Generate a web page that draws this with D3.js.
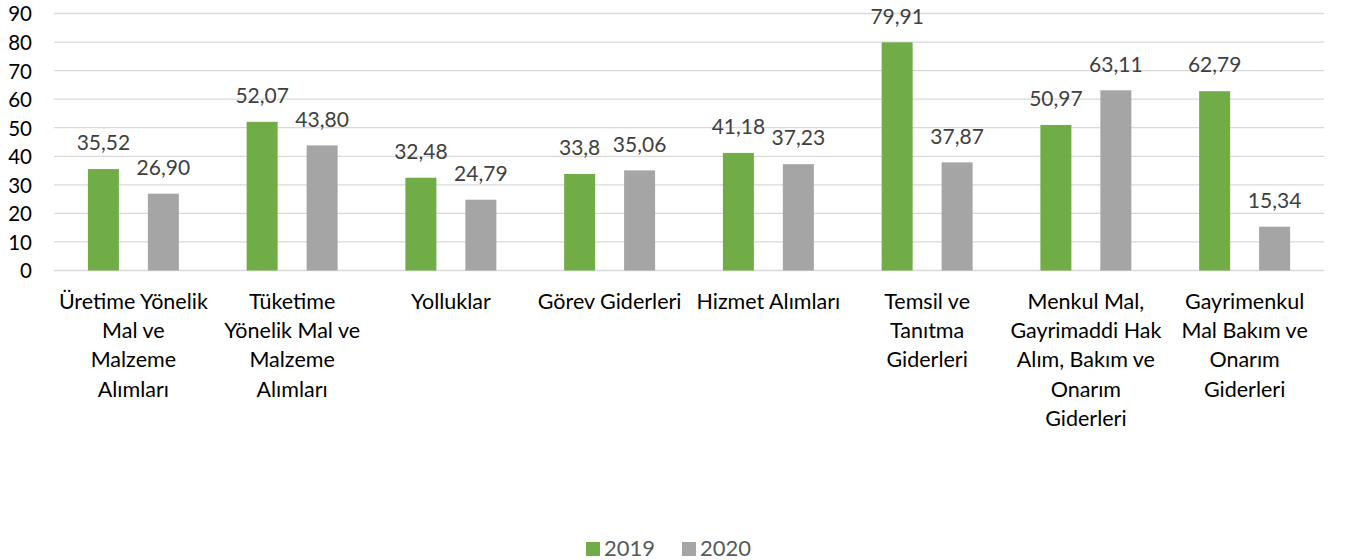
<!DOCTYPE html>
<html>
<head>
<meta charset="utf-8">
<script src="https://cdn.jsdelivr.net/npm/d3@7"></script>
<style>
  html, body { margin: 0; padding: 0; background: #fff; }
  svg { display: block; font-family: Lato, "Open Sans", sans-serif; }
</style>
</head>
<body>
<svg id="chart" width="1347" height="560"></svg>
<script>
const categories = [
  ["Üretime Yönelik", "Mal ve", "Malzeme", "Alımları"],
  ["Tüketime", "Yönelik Mal ve", "Malzeme", "Alımları"],
  ["Yolluklar"],
  ["Görev Giderleri"],
  ["Hizmet Alımları"],
  ["Temsil ve", "Tanıtma", "Giderleri"],
  ["Menkul Mal,", "Gayrimaddi Hak", "Alım, Bakım ve", "Onarım", "Giderleri"],
  ["Gayrimenkul", "Mal Bakım ve", "Onarım", "Giderleri"]
];
const seriesNames = ["2019", "2020"];
const values2019 = [35.52, 52.07, 32.48, 33.8, 41.18, 79.91, 50.97, 62.79];
const values2020 = [26.90, 43.80, 24.79, 35.06, 37.23, 37.87, 63.11, 15.34];
const labels2019 = ["35,52", "52,07", "32,48", "33,8", "41,18", "79,91", "50,97", "62,79"];
const labels2020 = ["26,90", "43,80", "24,79", "35,06", "37,23", "37,87", "63,11", "15,34"];
const yTicks = [0, 10, 20, 30, 40, 50, 60, 70, 80, 90];
const colors = ["#70AD47", "#A5A5A5"];

(function () {
const svg = d3.select("#chart");
const mLeft = 54, mRight = 1324, mTop = 13.5, mBottom = 270.5;

const catKeys = categories.map((c, i) => i);
const x0 = d3.scaleBand().domain(catKeys).range([mLeft, mRight]).paddingInner(0).paddingOuter(0);
const x1 = d3.scaleBand().domain(seriesNames).range([0, x0.bandwidth()])
  .paddingInner(0.483).paddingOuter(0.565);
const y = d3.scaleLinear().domain([0, 90]).range([mBottom, mTop]);
const color = d3.scaleOrdinal().domain(seriesNames).range(colors);

// gridlines
svg.append("g").selectAll("line").data(yTicks).join("line")
  .attr("x1", mLeft).attr("x2", mRight)
  .attr("y1", d => y(d)).attr("y2", d => y(d))
  .attr("stroke", "#D9D9D9").attr("stroke-width", 1.3);

// y axis labels
const yAxis = d3.axisLeft(y).tickValues(yTicks).tickSize(0).tickPadding(0);
const yg = svg.append("g").attr("transform", `translate(32,0)`).call(yAxis);
yg.select(".domain").remove();
yg.selectAll("text").attr("font-size", 20.5).attr("fill", "#000")
  .attr("font-family", "Lato, sans-serif").attr("dy", "0.36em");

const rows = catKeys.map(i => ({ i, vals: [values2019[i], values2020[i]], labs: [labels2019[i], labels2020[i]] }));

const groups = svg.append("g").selectAll("g").data(rows).join("g")
  .attr("transform", d => `translate(${x0(d.i)},0)`);

groups.selectAll("rect").data(d => seriesNames.map((s, k) => ({ s, v: d.vals[k] }))).join("rect")
  .attr("x", d => x1(d.s)).attr("width", x1.bandwidth())
  .attr("y", d => y(d.v)).attr("height", d => y(0) - y(d.v))
  .attr("fill", d => color(d.s));

groups.selectAll("text.lab").data(d => seriesNames.map((s, k) => ({ s, v: d.vals[k], t: d.labs[k] }))).join("text")
  .attr("class", "lab")
  .attr("x", d => x1(d.s) + x1.bandwidth() / 2)
  .attr("y", d => y(d.v) - 18.7)
  .attr("text-anchor", "middle")
  .attr("font-size", 21).attr("fill", "#404040")
  .text(d => d.t);

// x axis category labels
const xg = svg.append("g");
xg.selectAll("text").data(rows).join("text")
  .attr("text-anchor", "middle")
  .attr("font-size", 21.5).attr("fill", "#000")
  .attr("x", d => x0(d.i) + x0.bandwidth() / 2)
  .attr("y", 309)
  .each(function(d) {
    const t = d3.select(this);
    categories[d.i].forEach((line, k) => {
      t.append("tspan").attr("x", x0(d.i) + x0.bandwidth() / 2)
        .attr("dy", k === 0 ? 0 : 29.2).text(line);
    });
  });

// legend
const legend = svg.append("g");
const legendX = [586, 682];
seriesNames.forEach((s, k) => {
  legend.append("rect").attr("x", legendX[k]).attr("y", 542).attr("width", 14).attr("height", 14).attr("fill", color(s));
  legend.append("text").attr("x", legendX[k] + 18).attr("y", 556)
    .attr("font-size", 22).attr("fill", "#595959").text(s);
});
})();
</script>
</body>
</html>
